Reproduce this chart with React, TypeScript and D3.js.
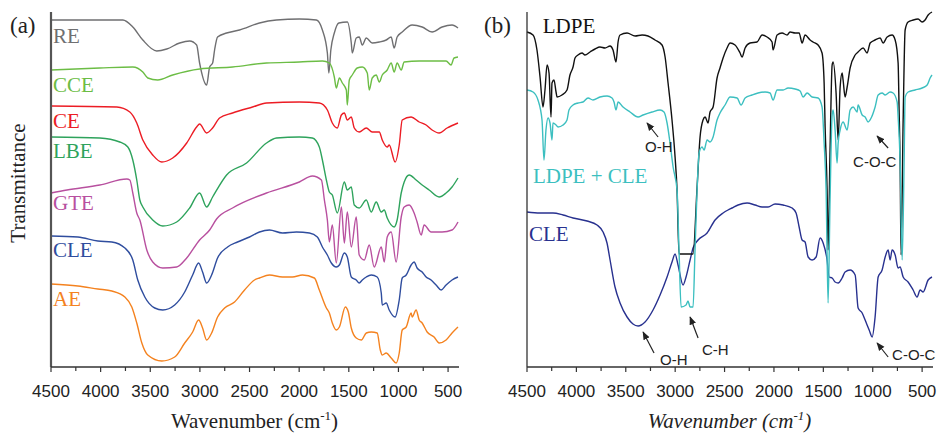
import React from "react";
import * as d3 from "d3";

// wavenumber (cm-1) vs transmittance (arbitrary, offset units)
const RE: [number, number][] = [[4500,347],[3776,347],[3676,340],[3575,327],[3435,316],[3334,318],[3204,324],[3103,326],[3033,322],[3003,304],[2932,282],[2902,300],[2872,304],[2852,317],[2822,330],[2731,334],[2601,337],[2400,344],[2229,347],[1998,348],[1827,347],[1766,337],[1716,314],[1701,294],[1681,317],[1646,334],[1600,344],[1515,345],[1475,324],[1465,314],[1425,329],[1395,330],[1364,322],[1324,329],[1264,324],[1193,325],[1123,327],[1073,330],[1043,319],[1013,330],[962,335],[862,342],[761,340],[661,335],[560,340],[460,342],[400,339]];
const CCE: [number, number][] = [[4500,297],[4008,299],[3676,300],[3575,295],[3525,289],[3425,287],[3274,292],[3003,298],[2671,300],[2329,304],[1998,305],[1766,306],[1696,304],[1646,290],[1626,279],[1595,289],[1565,284],[1525,277],[1515,262],[1495,287],[1465,292],[1415,299],[1364,300],[1314,294],[1294,277],[1264,289],[1224,292],[1193,285],[1163,292],[1113,297],[1073,304],[1043,295],[1013,304],[972,297],[942,305],[791,306],[661,306],[520,306],[470,302],[440,309],[400,310]];
const CE: [number, number][] = [[4500,261],[3837,260],[3706,255],[3636,244],[3575,227],[3475,212],[3384,205],[3274,209],[3133,224],[3033,240],[3003,243],[2932,234],[2872,239],[2802,249],[2671,254],[2470,260],[2329,264],[1998,265],[1797,264],[1716,257],[1666,244],[1616,239],[1575,252],[1545,254],[1515,247],[1475,250],[1445,239],[1395,235],[1324,239],[1264,235],[1193,235],[1163,227],[1113,220],[1093,222],[1033,205],[992,222],[962,247],[872,250],[791,245],[721,242],[661,237],[590,234],[510,239],[400,244]];
const LBE: [number, number][] = [[4500,230],[4008,229],[3807,225],[3726,220],[3676,207],[3636,187],[3605,167],[3575,160],[3475,147],[3374,141],[3234,145],[3103,159],[3003,174],[2932,160],[2872,170],[2731,192],[2530,204],[2329,224],[2229,229],[1998,230],[1867,229],[1797,220],[1766,207],[1726,187],[1696,175],[1666,172],[1616,154],[1545,185],[1515,177],[1475,180],[1445,162],[1395,159],[1324,167],[1274,155],[1224,165],[1173,155],[1143,157],[1113,149],[1043,140],[1013,147],[972,174],[942,185],[892,192],[822,187],[761,182],[691,177],[590,170],[520,174],[460,180],[400,189]];
const GTE: [number, number][] = [[4500,174],[4339,177],[4008,182],[3736,188],[3706,187],[3676,174],[3636,154],[3605,147],[3535,117],[3475,105],[3374,99],[3234,100],[3133,109],[3003,127],[2902,137],[2832,148],[2671,159],[2329,174],[1998,185],[1867,191],[1776,187],[1746,167],[1716,147],[1696,125],[1666,142],[1626,104],[1575,160],[1545,124],[1515,155],[1475,120],[1425,150],[1395,112],[1344,107],[1294,122],[1244,100],[1173,120],[1143,105],[1113,130],[1073,135],[1023,105],[972,150],[942,160],[892,162],[842,154],[812,145],[771,132],[741,142],[671,135],[560,135],[460,137],[400,145]];
const CLE_A: [number, number][] = [[4500,131],[4229,130],[4028,126],[3887,125],[3756,119],[3676,107],[3626,87],[3555,70],[3455,59],[3374,57],[3254,62],[3153,75],[3073,92],[3013,104],[2973,95],[2932,84],[2882,92],[2822,109],[2721,120],[2621,125],[2500,130],[2400,135],[2299,137],[2168,134],[2028,135],[1897,134],[1817,130],[1766,120],[1716,112],[1676,104],[1626,100],[1595,102],[1545,114],[1515,110],[1475,90],[1425,87],[1395,84],[1364,87],[1324,90],[1274,92],[1214,90],[1173,74],[1163,62],[1123,64],[1093,57],[1033,50],[992,67],[962,89],[922,92],[872,102],[842,105],[812,99],[761,95],[721,90],[671,87],[621,82],[570,77],[520,82],[460,87],[400,90]];
const AE: [number, number][] = [[4500,83],[4229,81],[4028,78],[3887,76],[3756,70],[3686,60],[3636,44],[3585,24],[3525,12],[3384,6],[3254,10],[3153,24],[3073,35],[3013,47],[2973,39],[2932,27],[2882,34],[2822,50],[2751,59],[2651,65],[2550,77],[2450,87],[2400,89],[2299,92],[2168,90],[2068,90],[1967,92],[1847,89],[1797,77],[1726,59],[1696,54],[1666,44],[1626,37],[1595,40],[1535,60],[1505,55],[1475,39],[1425,29],[1374,27],[1324,34],[1274,35],[1214,34],[1183,17],[1163,12],[1123,14],[1073,9],[1023,4],[992,14],[962,37],[922,40],[872,54],[862,50],[822,57],[791,47],[761,44],[711,35],[641,30],[590,24],[520,27],[460,34],[400,40]];

const LDPE: [number, number][] = [[4500,335],[4439,332],[4399,317],[4368,290],[4338,260],[4318,277],[4297,302],[4277,294],[4257,250],[4247,284],[4227,287],[4206,275],[4196,270],[4146,272],[4095,277],[4065,292],[4034,300],[4014,309],[3984,312],[3943,314],[3913,312],[3862,315],[3811,318],[3761,320],[3710,319],[3659,321],[3629,317],[3599,305],[3578,325],[3558,332],[3487,334],[3406,331],[3335,332],[3275,331],[3204,327],[3133,322],[3102,310],[3072,284],[3032,247],[3001,210],[2981,177],[2961,113],[2890,113],[2819,113],[2778,180],[2748,230],[2718,247],[2697,250],[2667,244],[2647,255],[2616,260],[2576,289],[2546,299],[2515,309],[2475,319],[2444,324],[2394,322],[2343,314],[2323,310],[2292,319],[2242,324],[2171,325],[2120,332],[2070,330],[2019,325],[2009,317],[1968,332],[1918,334],[1867,332],[1837,335],[1786,334],[1745,334],[1715,324],[1685,332],[1634,327],[1604,325],[1553,322],[1513,314],[1492,284],[1482,240],[1462,177],[1452,117],[1432,217],[1411,302],[1401,305],[1371,274],[1350,227],[1330,280],[1310,294],[1300,287],[1280,270],[1259,280],[1229,299],[1178,312],[1148,315],[1097,319],[1057,314],[1026,324],[976,327],[925,329],[895,324],[854,330],[804,332],[773,327],[743,304],[733,257],[723,207],[713,112],[692,247],[672,337],[642,345],[591,347],[541,348],[500,345],[470,347],[439,352],[400,355]];
const LDPE_CLE: [number, number][] = [[4500,277],[4439,275],[4389,267],[4348,247],[4328,207],[4308,237],[4287,249],[4267,244],[4247,227],[4237,244],[4206,242],[4186,240],[4135,242],[4095,247],[4075,257],[4034,262],[3984,264],[3933,265],[3882,269],[3832,267],[3761,270],[3690,271],[3639,269],[3619,265],[3599,257],[3578,265],[3528,260],[3457,255],[3376,250],[3325,252],[3234,255],[3153,257],[3113,255],[3082,244],[3052,224],[3021,200],[2981,177],[2961,117],[2940,60],[2890,62],[2870,66],[2849,60],[2819,60],[2799,117],[2778,177],[2758,214],[2728,220],[2707,217],[2677,227],[2647,225],[2616,230],[2576,247],[2546,254],[2495,262],[2444,270],[2373,269],[2333,262],[2292,269],[2221,272],[2161,274],[2090,275],[2039,274],[2009,267],[1968,277],[1907,277],[1857,279],[1786,278],[1735,276],[1705,270],[1664,274],[1614,270],[1553,269],[1513,260],[1492,224],[1472,177],[1452,64],[1432,167],[1411,252],[1401,257],[1381,237],[1361,204],[1350,224],[1330,237],[1300,245],[1259,237],[1229,257],[1198,260],[1158,255],[1148,262],[1107,252],[1077,250],[1047,245],[1016,249],[976,260],[945,272],[905,274],[874,272],[824,275],[794,274],[753,265],[743,250],[723,207],[702,107],[682,207],[672,270],[642,275],[571,277],[500,279],[449,282],[419,289],[400,292]];
const CLE_B: [number, number][] = [[4500,155],[4368,154],[4237,154],[4135,152],[4034,149],[3892,146],[3791,142],[3730,135],[3690,124],[3659,107],[3609,80],[3558,64],[3487,50],[3427,43],[3376,41],[3305,45],[3224,57],[3153,72],[3082,90],[3032,105],[3001,113],[2971,102],[2920,82],[2890,90],[2849,107],[2819,119],[2768,127],[2677,134],[2596,147],[2515,154],[2465,157],[2424,159],[2363,162],[2272,164],[2191,162],[2120,160],[2059,160],[1989,163],[1907,162],[1816,159],[1776,154],[1745,140],[1715,127],[1685,125],[1654,110],[1614,107],[1573,110],[1533,129],[1502,124],[1462,107],[1442,90],[1411,89],[1381,85],[1350,84],[1310,89],[1280,95],[1229,97],[1178,92],[1148,59],[1107,54],[1077,47],[1057,42],[1036,37],[1006,30],[976,50],[945,90],[905,97],[874,110],[844,117],[824,107],[804,117],[773,112],[743,99],[723,100],[692,90],[642,85],[591,77],[551,70],[520,77],[490,75],[439,87],[400,90]];

const tickValues = d3.range(4500, 399, -250);
const tickLabels = [4500, 4000, 3500, 3000, 2500, 2000, 1500, 1000, 500];

const seriesA = [
  { name: "RE", data: RE, color: "#6f6f71", labelY: 324 },
  { name: "CCE", data: CCE, color: "#6cbd45", labelY: 275 },
  { name: "CE", data: CE, color: "#ec1c24", labelY: 239 },
  { name: "LBE", data: LBE, color: "#2ea35c", labelY: 209 },
  { name: "GTE", data: GTE, color: "#b8509f", labelY: 157 },
  { name: "CLE", data: CLE_A, color: "#2f4d9e", labelY: 110 },
  { name: "AE", data: AE, color: "#f4821f", labelY: 61 },
];

const seriesB = [
  { name: "CLE", data: CLE_B, color: "#28318f", labelX: 4480, labelY: 126 },
  { name: "LDPE", data: LDPE, color: "#111111", labelX: 4340, labelY: 334 },
  { name: "LDPE + CLE", data: LDPE_CLE, color: "#3cbfc0", labelX: 4440, labelY: 184 },
];

// arrow annotations: [tip], [tail], [text start]
const notes = [
  { text: "O-H", tip: [3285, 244], tail: [3173, 230], at: [3305, 215] },
  { text: "C-O-C", tip: [956, 231], tail: [844, 219], at: [1199, 200] },
  { text: "O-H", tip: [3325, 35], tail: [3214, 14], at: [3153, 2] },
  { text: "C-H", tip: [2849, 50], tail: [2768, 29], at: [2728, 12] },
  { text: "C-O-C", tip: [956, 24], tail: [844, 10], at: [804, 7] },
];

const W = 938;
const H = 433;
const y = d3.scaleLinear().domain([0, 355]).range([367, 12]);
const xA = d3.scaleLinear().domain([4500, 400]).range([51, 458]);
const xB = d3.scaleLinear().domain([4500, 400]).range([527, 932]);

const serif = "'Liberation Serif', 'Times New Roman', serif";
const sans = "'Liberation Sans', Arial, sans-serif";

function XAxis({ x, italic }: { x: d3.ScaleLinear<number, number>; italic?: boolean }) {
  const [r0, r1] = x.range();
  return (
    <g>
      <line x1={r0} x2={r1 + 1} y1={367} y2={367} stroke="#333" strokeWidth={1.3} />
      {tickValues.map((t) => (
        <line key={t} x1={x(t)} x2={x(t)} y1={367} y2={tickLabels.includes(t) ? 372 : 371} stroke="#333" strokeWidth={1.2} />
      ))}
      {tickLabels.map((t) => (
        <text key={t} x={x(t)} y={397} textAnchor="middle" fontFamily={sans} fontSize={17} fill="#222">{t}</text>
      ))}
      <text x={(r0 + r1) / 2} y={428} textAnchor="middle" fontFamily={serif} fontSize={21} fontStyle={italic ? "italic" : "normal"} fill="#222">
        Wavenumber (cm<tspan dy={-8} fontSize={13}>-1</tspan><tspan dy={8}>)</tspan>
      </text>
    </g>
  );
}

export default function App() {
  const lineA = d3.line<[number, number]>().x((d) => xA(d[0])).y((d) => y(d[1])).curve(d3.curveMonotoneX);
  const lineB = d3.line<[number, number]>().x((d) => xB(d[0])).y((d) => y(d[1])).curve(d3.curveMonotoneX);
  return (
    <div style={{ position: "absolute", left: 0, top: 0 }}>
      <svg width={W} height={H} style={{ display: "block", background: "#fff" }}>
        <defs>
          <marker id="ah" viewBox="0 0 10 10" refX={9} refY={5} markerWidth={7} markerHeight={7} orient="auto">
            <path d="M0,1 L10,5 L0,9 Z" fill="#222" />
          </marker>
        </defs>

        {/* panel (a) */}
        <text x={10} y={33} fontFamily={serif} fontSize={23} fill="#222">(a)</text>
        <text transform="translate(25,183) rotate(-90)" textAnchor="middle" fontFamily={serif} fontSize={21} fill="#222">Transmittance</text>
        {seriesA.map((s) => (
          <path key={s.name} d={lineA(s.data) || ""} fill="none" stroke={s.color} strokeWidth={1.4} strokeLinejoin="round" />
        ))}
        {seriesA.map((s) => (
          <text key={s.name} x={53} y={y(s.labelY)} fontFamily={serif} fontSize={21} fill={s.color}>{s.name}</text>
        ))}
        <line x1={51} x2={51} y1={12} y2={367} stroke="#555" strokeWidth={2.2} />
        <XAxis x={xA} />

        {/* panel (b) */}
        <text x={484} y={33} fontFamily={serif} fontSize={23} fill="#222">(b)</text>
        {seriesB.map((s) => (
          <path key={s.name} d={lineB(s.data) || ""} fill="none" stroke={s.color} strokeWidth={1.4} strokeLinejoin="round" />
        ))}
        {seriesB.map((s) => (
          <text key={s.name} x={xB(s.labelX)} y={y(s.labelY)} fontFamily={serif} fontSize={21} fill={s.color}>{s.name}</text>
        ))}
        {notes.map((n, i) => (
          <g key={i}>
            <line x1={xB(n.tail[0])} y1={y(n.tail[1])} x2={xB(n.tip[0])} y2={y(n.tip[1])} stroke="#222" strokeWidth={1.2} markerEnd="url(#ah)" />
            <text x={xB(n.at[0])} y={y(n.at[1])} fontFamily={sans} fontSize={15} fill="#222">{n.text}</text>
          </g>
        ))}
        <line x1={527} x2={527} y1={12} y2={367} stroke="#333" strokeWidth={1.3} />
        <XAxis x={xB} italic />
      </svg>
    </div>
  );
}
